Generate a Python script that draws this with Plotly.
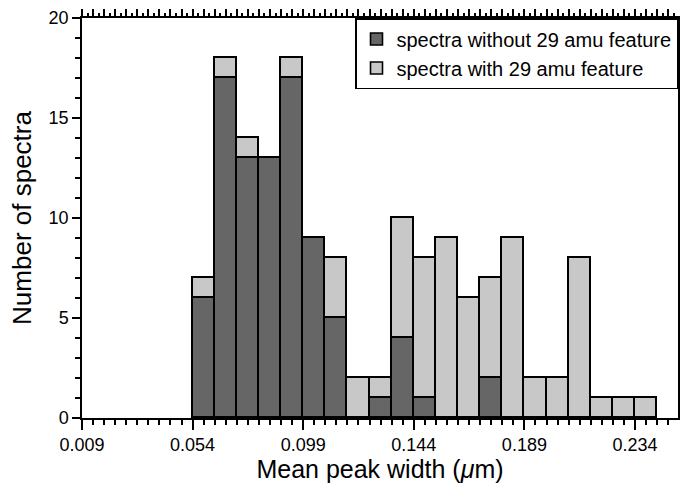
import plotly.graph_objects as go

# Histogram bins (lower edges, micrometres); every bin is 0.009 wide
bin_lower = [0.054, 0.063, 0.072, 0.081, 0.090, 0.099, 0.108, 0.117, 0.126, 0.135,
             0.144, 0.153, 0.162, 0.171, 0.180, 0.189, 0.198, 0.207, 0.216, 0.225, 0.234]
bin_width = 0.009

# Counts per bin
without_29 = [6, 17, 13, 13, 17, 9, 5, 0, 1, 4, 1, 0, 0, 2, 0, 0, 0, 0, 0, 0, 0]
with_29 = [1, 1, 1, 0, 1, 0, 3, 2, 1, 6, 7, 9, 6, 5, 9, 2, 2, 8, 1, 1, 1]

x_tick_vals = [0.009, 0.054, 0.099, 0.144, 0.189, 0.234]
x_tick_text = ["0.009", "0.054", "0.099", "0.144", "0.189", "0.234"]

centers = [b + bin_width / 2 for b in bin_lower]

FONT = "Liberation Sans, Arial, Helvetica, sans-serif"
X_RANGE = [0.009, 0.2515]

fig = go.Figure()
fig.add_trace(go.Bar(
    x=centers, y=without_29, width=bin_width,
    name="spectra without 29 amu feature",
    marker=dict(color="#666666", line=dict(color="black", width=1.6)),
))
fig.add_trace(go.Bar(
    x=centers, y=with_29, width=bin_width,
    name="spectra with 29 amu feature",
    marker=dict(color="#c8c8c8", line=dict(color="black", width=1.6)),
))

fig.update_layout(
    width=681, height=483,
    margin=dict(l=82, r=1, t=18, b=65),
    paper_bgcolor="white", plot_bgcolor="white",
    barmode="stack", bargap=0,
    font=dict(family=FONT, color="black", size=18),
    legend=dict(
        x=1, xanchor="right", y=1, yanchor="top",
        bgcolor="white", bordercolor="black", borderwidth=1.5,
        traceorder="normal", font=dict(size=20),
        tracegroupgap=0,
    ),
    xaxis=dict(
        range=X_RANGE, showgrid=False, zeroline=False,
        showline=True, linecolor="black", linewidth=1.5,
        tickmode="array", tickvals=x_tick_vals, ticktext=x_tick_text,
        ticks="outside", ticklen=10, tickwidth=1.5, tickcolor="black",
        minor=dict(tick0=0.009, dtick=0.0045, ticks="outside", ticklen=5,
                   tickwidth=1.5, tickcolor="black", showgrid=False),
        tickfont=dict(size=18),
        title=dict(text="Mean peak width (<i>μ</i>m)", font=dict(size=25), standoff=7),
    ),
    xaxis2=dict(
        overlaying="x", side="top", anchor="y",
        range=X_RANGE, showgrid=False, zeroline=False,
        showline=True, linecolor="black", linewidth=1.5,
        tick0=0.009, dtick=0.0045, showticklabels=False,
        ticks="outside", ticklen=7, tickwidth=1.5, tickcolor="black",
        minor=dict(tick0=0.00675, dtick=0.0045, ticks="outside", ticklen=3,
                   tickwidth=1.5, tickcolor="black", showgrid=False),
    ),
    yaxis=dict(
        range=[0, 20], showgrid=False, zeroline=False,
        showline=True, linecolor="black", linewidth=1.5, mirror=True,
        tick0=0, dtick=5,
        ticks="outside", ticklen=8, tickwidth=1.5, tickcolor="black",
        minor=dict(dtick=1, ticks="outside", ticklen=5, tickwidth=1.5,
                   tickcolor="black", showgrid=False),
        tickfont=dict(size=18),
        title=dict(text="Number of spectra", font=dict(size=26), standoff=10),
    ),
)

# empty trace so the top axis is drawn
fig.add_trace(go.Scatter(x=[], y=[], xaxis="x2", showlegend=False, hoverinfo="skip"))

fig.write_html("out.html")
